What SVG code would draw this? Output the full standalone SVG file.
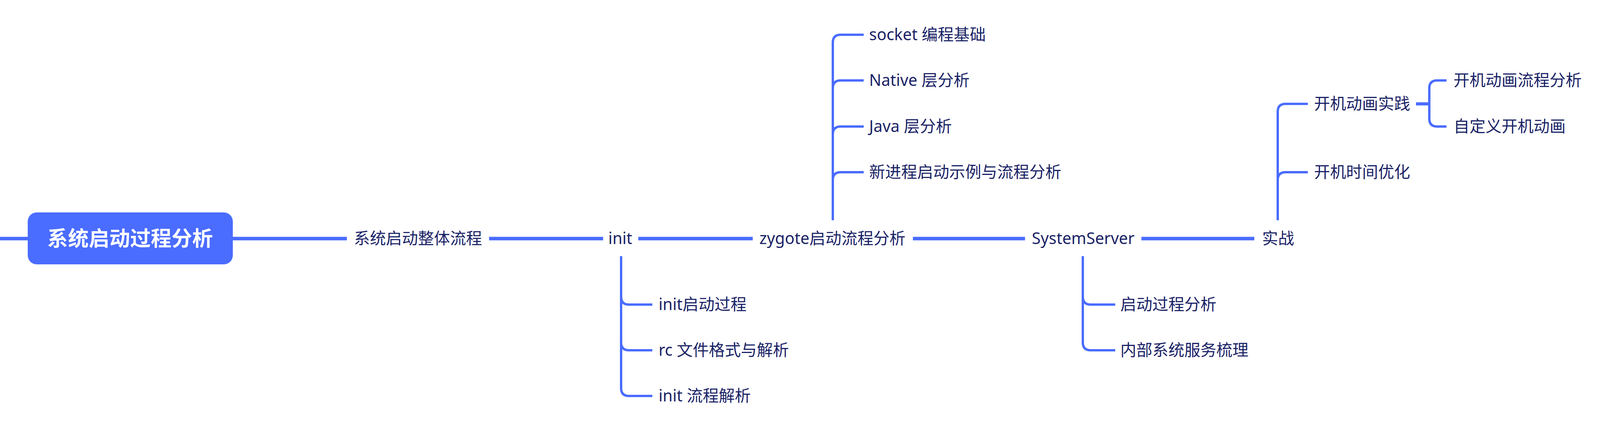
<svg xmlns="http://www.w3.org/2000/svg" width="4285" height="1114" viewBox="0 0 4285 1114">
<style>
.t{font-family:"Noto Sans","Noto Sans CJK SC",sans-serif;font-size:41px;fill:#1a2366}
.m{text-anchor:middle}
.root{font-family:"Noto Sans CJK SC","Noto Sans",sans-serif;font-size:53px;font-weight:bold;fill:#ffffff;text-anchor:middle}
.main{stroke:#4a6cff;stroke-width:9;fill:none}
.br{stroke:#4a6cff;stroke-width:6;fill:none;stroke-linecap:butt}
</style>
<rect width="4285" height="1114" fill="#ffffff"/>
<g id="connectors">
<line class="main" x1="0" y1="611" x2="71" y2="611"/>
<line class="main" x1="596" y1="611" x2="888" y2="611"/>
<line class="main" x1="1252" y1="611" x2="1544" y2="611"/>
<line class="main" x1="1634" y1="611" x2="1927" y2="611"/>
<line class="main" x1="2337" y1="611" x2="2624" y2="611"/>
<line class="main" x1="2922" y1="611" x2="3211" y2="611"/>
<!-- init -->
<path class="br" d="M1590,656 V994 Q1590,1014 1610,1014 H1670"/>
<path class="br" d="M1590,760 Q1590,780 1610,780 H1670"/>
<path class="br" d="M1590,877 Q1590,897 1610,897 H1670"/>
<!-- zygote -->
<path class="br" d="M2132,564 V109 Q2132,89 2152,89 H2211"/>
<path class="br" d="M2132,226 Q2132,206 2152,206 H2211"/>
<path class="br" d="M2132,344 Q2132,324 2152,324 H2211"/>
<path class="br" d="M2132,461 Q2132,441 2152,441 H2211"/>
<!-- SystemServer -->
<path class="br" d="M2772,656 V877 Q2772,897 2792,897 H2855"/>
<path class="br" d="M2772,760 Q2772,780 2792,780 H2855"/>
<!-- 实战 -->
<path class="br" d="M3271,564 V286 Q3271,266 3291,266 H3348"/>
<path class="br" d="M3271,461 Q3271,441 3291,441 H3348"/>
<!-- 开机动画实践 -->
<line class="main" x1="3625" y1="266" x2="3659" y2="266" style="stroke-width:8"/>
<path class="br" d="M3703,206 H3679 Q3659,206 3659,226 V304 Q3659,324 3679,324 H3703"/>
</g>
<g id="node-root">
<rect x="71" y="544" width="525" height="133" rx="23" fill="#4a6cff"/>
<text class="root" x="333" y="630">系统启动过程分析</text>
</g>
<g id="node-overall"><text class="t m" x="1070" y="625">系统启动整体流程</text></g>
<g id="node-init"><text class="t m" x="1588" y="625">init</text></g>
<g id="node-zygote"><text class="t m" x="2131" y="625">zygote启动流程分析</text></g>
<g id="node-systemserver"><text class="t m" x="2773" y="625">SystemServer</text></g>
<g id="node-practice"><text class="t m" x="3272" y="625">实战</text></g>
<g id="node-init-1"><text class="t" x="1686" y="794">init启动过程</text></g>
<g id="node-init-2"><text class="t" x="1686" y="911">rc 文件格式与解析</text></g>
<g id="node-init-3"><text class="t" x="1686" y="1028">init 流程解析</text></g>
<g id="node-zygote-1"><text class="t" x="2225" y="103">socket 编程基础</text></g>
<g id="node-zygote-2"><text class="t" x="2225" y="220">Native 层分析</text></g>
<g id="node-zygote-3"><text class="t" x="2225" y="338">Java 层分析</text></g>
<g id="node-zygote-4"><text class="t" x="2225" y="455">新进程启动示例与流程分析</text></g>
<g id="node-ss-1"><text class="t" x="2868" y="794">启动过程分析</text></g>
<g id="node-ss-2"><text class="t" x="2868" y="911">内部系统服务梳理</text></g>
<g id="node-practice-1"><text class="t" x="3364" y="280">开机动画实践</text></g>
<g id="node-practice-2"><text class="t" x="3364" y="455">开机时间优化</text></g>
<g id="node-anim-1"><text class="t" x="3721" y="220">开机动画流程分析</text></g>
<g id="node-anim-2"><text class="t" x="3721" y="338">自定义开机动画</text></g>
</svg>
